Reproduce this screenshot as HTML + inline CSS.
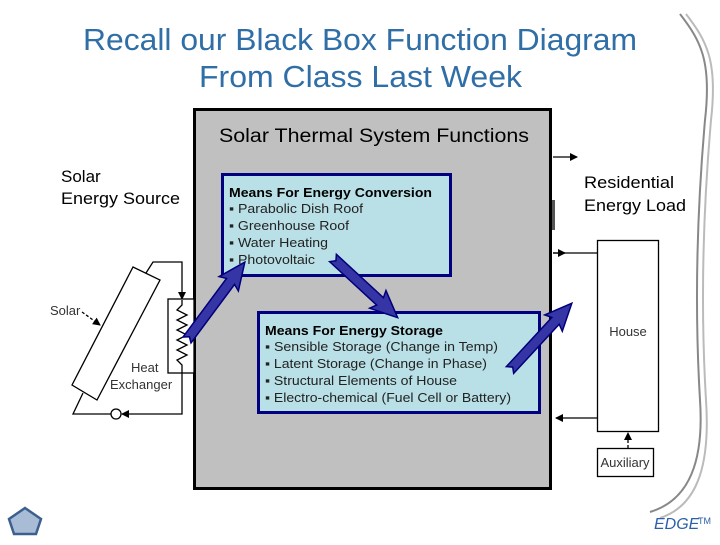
<!DOCTYPE html>
<html><head><style>
body{margin:0;width:720px;height:540px;background:#fff;overflow:hidden;font-family:"Liberation Sans",sans-serif}
</style></head><body>
<svg width="720" height="540" xmlns="http://www.w3.org/2000/svg" font-family="Liberation Sans, sans-serif">
<defs>
<marker id="ah" markerWidth="8" markerHeight="8" refX="7" refY="4" orient="auto" markerUnits="userSpaceOnUse"><path d="M0,0 L8,4 L0,8 z" fill="#000"/></marker>
</defs>
<text x="83" y="50" font-size="31" fill="#2f6ea6" textLength="554" lengthAdjust="spacingAndGlyphs">Recall our Black Box Function Diagram</text>
<text x="199" y="87" font-size="31" fill="#2f6ea6" textLength="323" lengthAdjust="spacingAndGlyphs">From Class Last Week</text>
<path d="M680,14 C700,40 712,60 705,120 C698,200 694,300 700,400 C704,460 690,500 650,512" fill="none" stroke="#888" stroke-width="2"/>
<path d="M686,14 C706,40 718,60 711,120 C704,200 700,300 706,400 C710,460 700,505 660,518" fill="none" stroke="#bbb" stroke-width="2"/>
<rect x="194.5" y="109.5" width="356" height="379" fill="#c0c0c0" stroke="#000" stroke-width="3"/>
<text x="219" y="142" font-size="19" fill="#000" textLength="310" lengthAdjust="spacingAndGlyphs">Solar Thermal System Functions</text>
<text x="61" y="182" font-size="17">Solar</text>
<text x="61" y="204" font-size="17" textLength="119" lengthAdjust="spacingAndGlyphs">Energy Source</text>
<text x="584" y="188" font-size="17" textLength="90" lengthAdjust="spacingAndGlyphs">Residential</text>
<text x="584" y="211" font-size="17" textLength="102" lengthAdjust="spacingAndGlyphs">Energy Load</text>
<rect x="222.5" y="174.5" width="228" height="101" fill="#b9e0e6" stroke="#000080" stroke-width="3"/>
<text x="229" y="197" font-size="13" font-weight="bold" textLength="203" lengthAdjust="spacingAndGlyphs">Means For Energy Conversion</text>
<g font-size="13" fill="#222">
<text x="229" y="213" textLength="134" lengthAdjust="spacingAndGlyphs">▪ Parabolic Dish Roof</text>
<text x="229" y="230" textLength="120" lengthAdjust="spacingAndGlyphs">▪ Greenhouse Roof</text>
<text x="229" y="247" textLength="99" lengthAdjust="spacingAndGlyphs">▪ Water Heating</text>
<text x="229" y="264" textLength="86" lengthAdjust="spacingAndGlyphs">▪ Photovoltaic</text>
</g>
<rect x="258.5" y="312.5" width="281" height="100" fill="#b9e0e6" stroke="#000080" stroke-width="3"/>
<text x="265" y="335" font-size="13" font-weight="bold" textLength="178" lengthAdjust="spacingAndGlyphs">Means For Energy Storage</text>
<g font-size="13" fill="#222">
<text x="265" y="351" textLength="233" lengthAdjust="spacingAndGlyphs">▪ Sensible Storage (Change in Temp)</text>
<text x="265" y="368" textLength="222" lengthAdjust="spacingAndGlyphs">▪ Latent Storage (Change in Phase)</text>
<text x="265" y="385" textLength="192" lengthAdjust="spacingAndGlyphs">▪ Structural Elements of House</text>
<text x="265" y="402" textLength="246" lengthAdjust="spacingAndGlyphs">▪ Electro-chemical (Fuel Cell or Battery)</text>
</g>
<g stroke="#000" stroke-width="1.3" fill="none">
<polygon points="72,385 133,267 160,280 97,400" fill="#fff"/>
<polyline points="146,273 153,262 182,262 182,299" marker-end="url(#ah)"/>
<rect x="168" y="299" width="26" height="74" fill="#fff"/>
<polyline points="182,300 182,305 177,310 187,315 177,320 187,325 177,330 187,335 177,340 187,345 177,350 187,355 177,360 182,365 182,373"/>
<polyline points="182,373 182,414 122,414" marker-end="url(#ah)"/>
<circle cx="116" cy="414" r="5" fill="#fff"/>
<polyline points="111,414 73,414 83,393"/>
<line x1="82" y1="312" x2="100" y2="325" stroke-dasharray="3,2" marker-end="url(#ah)"/>
</g>
<g font-size="13" fill="#333">
<text x="50" y="315">Solar</text>
<text x="131" y="372">Heat</text>
<text x="110" y="389">Exchanger</text>
</g>
<g stroke="#000" stroke-width="1.3" fill="none">
<line x1="553" y1="157" x2="577" y2="157" marker-end="url(#ah)"/>
<line x1="597" y1="253" x2="553" y2="253"/>
<line x1="553" y1="253" x2="565" y2="253" marker-end="url(#ah)"/>
<line x1="597" y1="418" x2="556" y2="418" marker-end="url(#ah)"/>
<rect x="597.5" y="240.5" width="61" height="191" fill="#fff"/>
<rect x="597.5" y="448.5" width="56" height="28" fill="#fff"/>
<line x1="628" y1="448" x2="628" y2="433" stroke-dasharray="3,2" marker-end="url(#ah)"/>
</g>
<rect x="552" y="200" width="3" height="30" fill="#555"/>
<text x="628" y="336" font-size="13" fill="#333" text-anchor="middle">House</text>
<text x="625" y="467" font-size="13" fill="#333" text-anchor="middle">Auxiliary</text>
<g fill="#3535a5" stroke="#00007a" stroke-width="1.5">
<polygon transform="translate(187,340) rotate(-53.4)" points="0,-5 73,-5 70,-12 97,0 70,12 73,5 0,5 4,0"/>
<polygon transform="translate(333,258) rotate(42.7)" points="0,-5 64,-5 61,-12 88,0 61,12 64,5 0,5 4,0"/>
<polygon transform="translate(510,370) rotate(-47.2)" points="0,-5 67,-5 64,-12 91,0 64,12 67,5 0,5 4,0"/>
</g>
<polygon points="25,508 41,519 36,534 14,534 9,519" fill="#a9bcd6" stroke="#3d5f8f" stroke-width="2.5"/>
<text x="654" y="529" font-size="16" font-style="italic" fill="#2b5fa8">EDGE</text>
<text x="698" y="524" font-size="9" fill="#2b5fa8">TM</text>
</svg>
</body></html>
